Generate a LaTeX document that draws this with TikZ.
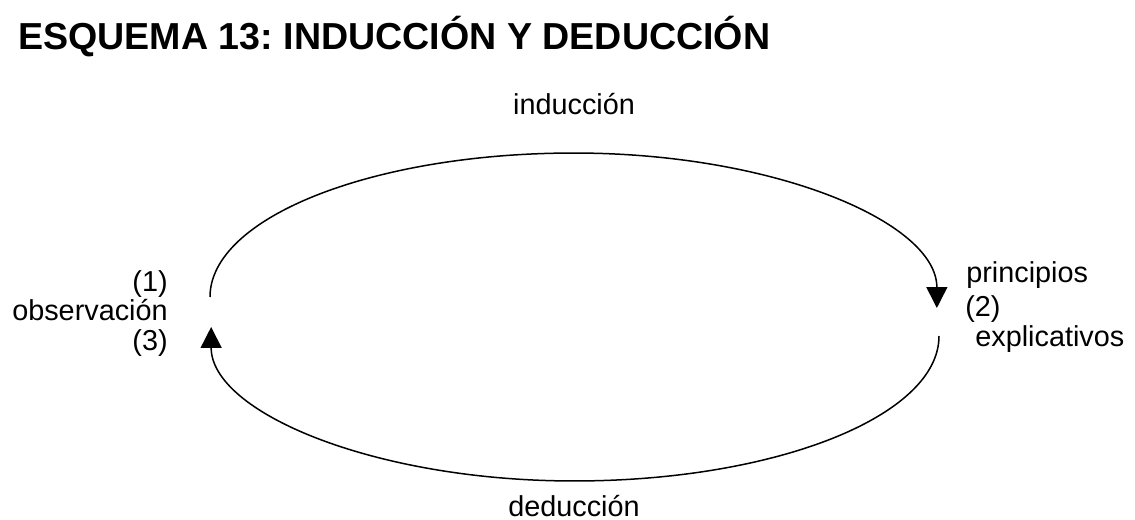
\documentclass[tikz,border=0pt]{standalone}
\usepackage{fontspec}
\setmainfont{Liberation Sans}
\usetikzlibrary{arrows.meta}
\frenchspacing

\tikzset{
  lbl/.style={inner sep=0pt, font=\fontsize{16.4}{16.4}\selectfont},
  ttl/.style={inner sep=0pt, font=\fontsize{21.4}{21.4}\selectfont\bfseries},
  loop/.style={line width=0.03cm, -{Triangle[width=0.42cm, length=0.42cm]}}
}

\begin{document}
\begin{tikzpicture}[x=0.02cm, y=-0.02cm]
\useasboundingbox (0, 0) rectangle (1135, 520);
\node at (18, 50) (T) [ttl, anchor=base west] {ESQUEMA 13: INDUCCIÓN Y DEDUCCIÓN};
\node at (574, 115) (ind) [lbl, anchor=base] {inducción};
\node at (574, 516) (ded) [lbl, anchor=base] {deducción};
\node at (168, 291) (one) [lbl, anchor=base east] {(1)};
\node at (168, 320) (obs) [lbl, anchor=base east] {observación};
\node at (168, 350) (three) [lbl, anchor=base east] {(3)};
\node at (966, 282) (prin) [lbl, anchor=base west] {principios};
\node at (965, 316) (two) [lbl, anchor=base west] {(2)};
\node at (975, 346) (expl) [lbl, anchor=base west] {explicativos};
\coordinate (obsUp) at (210, 297);
\coordinate (prinDown) at (939, 336);
\draw[loop] (obsUp) arc[start angle=180, end angle=90, x radius=7.28cm, y radius=2.88cm]
  arc[start angle=90, end angle=0, x radius=7.26cm, y radius=3.1cm];
\draw[loop] (prinDown) arc[start angle=0, end angle=-90, x radius=7.3cm, y radius=2.9cm]
  arc[start angle=-90, end angle=-180, x radius=7.26cm, y radius=3.08cm];
\end{tikzpicture}
\end{document}
